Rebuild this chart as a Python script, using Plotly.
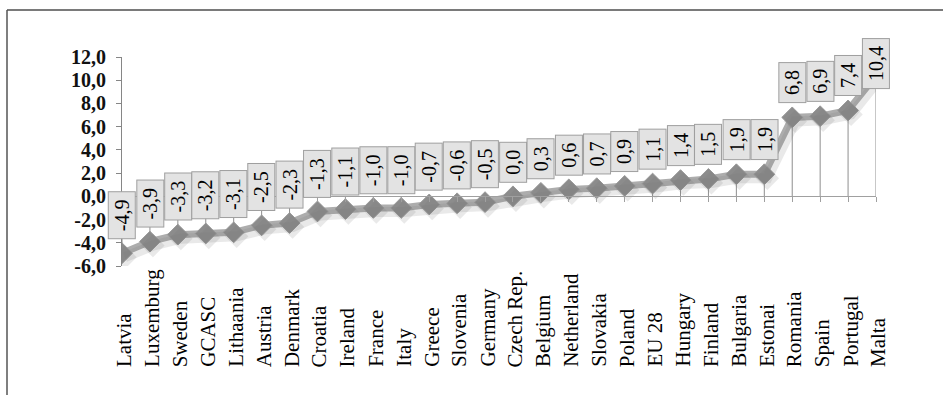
import plotly.graph_objects as go

# Change by country (ordered from lowest to highest)
countries = ["Latvia", "Luxemburg", "Sweden", "GCASC", "Lithaania", "Austria",
             "Denmark", "Croatia", "Ireland", "France", "Italy", "Greece",
             "Slovenia", "Germany", "Czech Rep.", "Belgium", "Netherland",
             "Slovakia", "Poland", "EU 28", "Hungary", "Finland", "Bulgaria",
             "Estonai", "Romania", "Spain", "Portugal", "Malta"]
values = [-4.9, -3.9, -3.3, -3.2, -3.1, -2.5, -2.3, -1.3, -1.1, -1.0, -1.0,
          -0.7, -0.6, -0.5, 0.0, 0.3, 0.6, 0.7, 0.9, 1.1, 1.4, 1.5, 1.9, 1.9,
          6.8, 6.9, 7.4, 10.4]
y_ticks = [-6, -4, -2, 0, 2, 4, 6, 8, 10, 12]

W, H = 943, 395
ML, MR, MT, MB = 122, 67, 57, 129
PW, PH = W - ML - MR, H - MT - MB

SERIF = "Liberation Serif"
idx = list(range(len(countries)))


def fmt(v):
    return f"{v:.1f}".replace(".", ",")


fig = go.Figure()

# drop lines from each point to the category axis
dx, dy = [], []
for i, v in zip(idx, values):
    dx += [i, i, None]
    dy += [0, v, None]
fig.add_trace(go.Scatter(x=dx, y=dy, mode="lines",
                         line=dict(color="#8e8e8e", width=1),
                         hoverinfo="skip", showlegend=False))

# soft shadow under the series
fig.add_trace(go.Scatter(x=idx, y=values, mode="lines+markers",
                         xaxis="x2", yaxis="y2",
                         line=dict(color="rgba(120,120,120,0.16)", width=10),
                         marker=dict(symbol="diamond", size=18,
                                     color="rgba(120,120,120,0.16)",
                                     line=dict(width=0)),
                         hoverinfo="skip", showlegend=False))

# main series
fig.add_trace(go.Scatter(x=idx, y=values, mode="lines+markers",
                         line=dict(color="#adadad", width=7),
                         marker=dict(symbol="diamond", size=16, color="#8c8c8c",
                                     line=dict(color="#999999", width=1)),
                         showlegend=False))

annotations = []
top_val = max(values)
for i, v in zip(idx, values):
    # the highest label is pulled down so it stays inside the chart
    shift = -14 if v == top_val else 14
    annotations.append(dict(
        x=i, y=v, xref="x", yref="y", text="\u00a0" + fmt(v) + "\u00a0",
        textangle=-90, showarrow=False, yanchor="bottom", yshift=shift,
        font=dict(family=SERIF, size=20, color="#000000"),
        bgcolor="#e3e3e3", bordercolor="#9f9f9f", borderwidth=1, borderpad=2,
    ))

# category labels, bottom-aligned and reading upwards
for i, name in zip(idx, countries):
    annotations.append(dict(
        x=i, y=-(369 - (MT + PH)) / PH, xref="x", yref="paper", text=name,
        textangle=-90, showarrow=False, yanchor="bottom", xshift=2,
        font=dict(family=SERIF, size=21, color="#000000"),
    ))

fig.update_layout(
    width=W, height=H,
    margin=dict(l=ML, r=MR, t=MT, b=MB),
    paper_bgcolor="white", plot_bgcolor="white",
    font=dict(family=SERIF),
    annotations=annotations,
    xaxis=dict(range=[0, len(countries) - 1], tickvals=idx, showticklabels=False,
               showgrid=False, zeroline=False, showline=True, linecolor="#a0a0a0",
               linewidth=1, ticks="outside", ticklen=5, tickcolor="#a0a0a0",
               anchor="free", position=(0 - y_ticks[0]) / (y_ticks[-1] - y_ticks[0])),
    yaxis=dict(range=[y_ticks[0], y_ticks[-1]], tickvals=y_ticks,
               ticktext=["<b>" + fmt(t) + "</b>" for t in y_ticks],
               showgrid=False, zeroline=False,
               showline=True, linecolor="#868686", linewidth=1, ticks="outside",
               ticklen=5, tickcolor="#868686", ticklabelstandoff=6,
               tickfont=dict(family=SERIF, size=20, color="#111111")),
    xaxis2=dict(range=[0 - 3 / PW * 27, len(countries) - 1 - 3 / PW * 27],
                overlaying="x", visible=False),
    yaxis2=dict(range=[y_ticks[0] + 4 / PH * 18, y_ticks[-1] + 4 / PH * 18],
                overlaying="y", visible=False),
    shapes=[
        dict(type="line", xref="paper", yref="paper",
             x0=(7 - ML) / PW, x1=(W - ML) / PW,
             y0=(H - MB - 10) / PH, y1=(H - MB - 10) / PH,
             line=dict(color="#7a7a7a", width=2)),
        dict(type="line", xref="paper", yref="paper",
             x0=(7 - ML) / PW, x1=(7 - ML) / PW,
             y0=(H - MB - 10) / PH, y1=-MB / PH,
             line=dict(color="#555555", width=1.5)),
    ],
)

fig.write_html("out.html")
